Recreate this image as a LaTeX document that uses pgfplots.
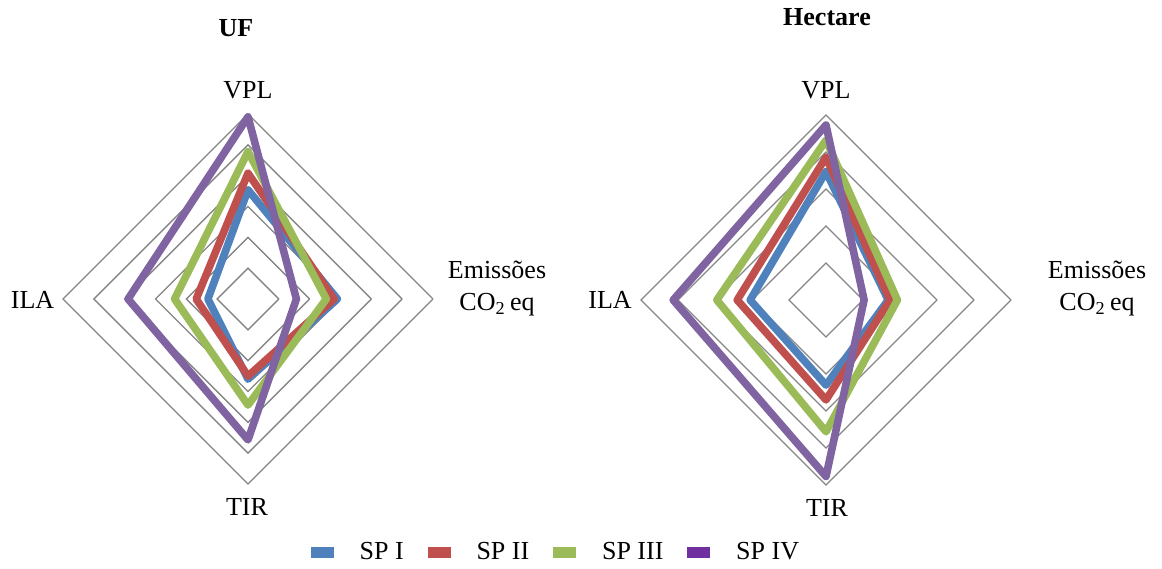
\documentclass[border=0pt]{standalone}
\usepackage{fontspec}
\setmainfont{Liberation Serif}
\usepackage{pgfplots}
\pgfplotsset{compat=1.18}
\usepgfplotslibrary{polar}
\definecolor{c1}{HTML}{4F81BD}
\definecolor{c2}{HTML}{C0504D}
\definecolor{c3}{HTML}{9BBB59}
\definecolor{c4}{HTML}{8064A2}
\definecolor{c4leg}{HTML}{7030A0}
\definecolor{gridc}{HTML}{868686}
\begin{document}
\begin{tikzpicture}[font=\fontsize{13}{16}\selectfont]
\path[use as bounding box] (0,0) rectangle (581pt,284pt);
\pgfplotsset{
  radar/.style={width=185pt, height=185pt, scale only axis, hide axis,
    xmin=0, xmax=360, ymin=0, clip=false, anchor=center},
  gridl/.style={gridc, line width=0.7pt, forget plot, no markers},
  ser/.style={line width=3.8pt, line join=round, line cap=round, no markers, forget plot},
}
% ---------------- UF ----------------
\begin{polaraxis}[radar, at={(124pt,134.5pt)}, ymax=6,
  legend columns=4,
  legend style={at={(1.3351,-0.1838)}, anchor=center, draw=none, fill=none,
    font=\fontsize{13}{16}\selectfont,
    /tikz/every odd column/.style={column sep=11pt},
    /tikz/every even column/.style={column sep=10pt}},
  legend entries={SP I, SP II, SP III, SP IV}]
\addplot[gridl] coordinates {(0,1) (90,1) (180,1) (270,1) (360,1)};
\addplot[gridl] coordinates {(0,2) (90,2) (180,2) (270,2) (360,2)};
\addplot[gridl] coordinates {(0,3) (90,3) (180,3) (270,3) (360,3)};
\addplot[gridl] coordinates {(0,4) (90,4) (180,4) (270,4) (360,4)};
\addplot[gridl] coordinates {(0,5) (90,5) (180,5) (270,5) (360,5)};
\addplot[gridl] coordinates {(0,6) (90,6) (180,6) (270,6) (360,6)};
% VPL (90), Emissoes (0), TIR (270), ILA (180)
\addplot[ser, c1] coordinates {(90,3.54) (0,2.90) (-90,2.60) (-180,1.30) (-270,3.54)};
\addplot[ser, c2] coordinates {(90,4.08) (0,2.79) (-90,2.50) (-180,1.68) (-270,4.08)};
\addplot[ser, c3] coordinates {(90,4.78) (0,2.54) (-90,3.44) (-180,2.38) (-270,4.78)};
\addplot[ser, c4] coordinates {(90,5.91) (0,1.57) (-90,4.57) (-180,3.89) (-270,5.91)};
\addlegendimage{legend image code/.code={\fill[c1] (0pt,-2.5pt) rectangle (11pt,2.5pt);}}
\addlegendimage{legend image code/.code={\fill[c2] (0pt,-2.5pt) rectangle (11pt,2.5pt);}}
\addlegendimage{legend image code/.code={\fill[c3] (0pt,-2.5pt) rectangle (11pt,2.5pt);}}
\addlegendimage{legend image code/.code={\fill[c4leg] (0pt,-2.5pt) rectangle (11pt,2.5pt);}}
\end{polaraxis}
% ---------------- Hectare ----------------
\begin{polaraxis}[radar, at={(413pt,134pt)}, ymax=5]
\addplot[gridl] coordinates {(0,1) (90,1) (180,1) (270,1) (360,1)};
\addplot[gridl] coordinates {(0,2) (90,2) (180,2) (270,2) (360,2)};
\addplot[gridl] coordinates {(0,3) (90,3) (180,3) (270,3) (360,3)};
\addplot[gridl] coordinates {(0,4) (90,4) (180,4) (270,4) (360,4)};
\addplot[gridl] coordinates {(0,5) (90,5) (180,5) (270,5) (360,5)};
\addplot[ser, c1] coordinates {(90,3.47) (0,1.68) (-90,2.30) (-180,2.05) (-270,3.47)};
\addplot[ser, c2] coordinates {(90,3.86) (0,1.73) (-90,2.70) (-180,2.40) (-270,3.86)};
\addplot[ser, c3] coordinates {(90,4.32) (0,1.93) (-90,3.56) (-180,2.95) (-270,4.32)};
\addplot[ser, c4] coordinates {(90,4.73) (0,1.03) (-90,4.77) (-180,4.13) (-270,4.73)};
\end{polaraxis}
% titles and category labels
\node[font=\fontsize{13}{16}\selectfont\bfseries] at (118pt,270pt) {UF};
\node[font=\fontsize{13}{16}\selectfont\bfseries] at (413.5pt,275.5pt) {Hectare};
\node at (124pt,239pt) {VPL};
\node at (123.5pt,30.5pt) {TIR};
\node at (16.25pt,134pt) {ILA};
\node[align=center] at (248.5pt,139.5pt) {Emissões\\CO\textsubscript{2}\,eq};
\node at (413pt,239pt) {VPL};
\node at (413.5pt,30pt) {TIR};
\node at (305pt,134pt) {ILA};
\node[align=center] at (548.5pt,139.5pt) {Emissões\\CO\textsubscript{2}\,eq};
\end{tikzpicture}
\end{document}
